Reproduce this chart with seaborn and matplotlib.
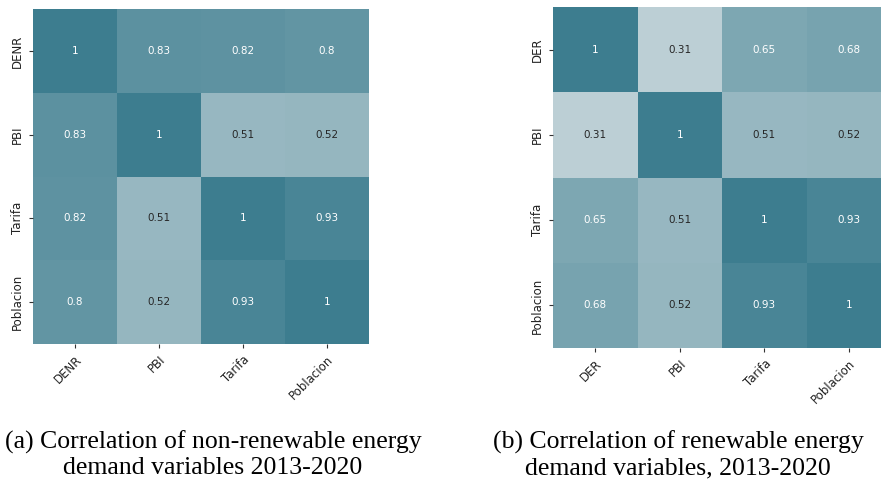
import numpy as np
import pandas as pd
import seaborn as sns
import matplotlib.pyplot as plt

# Correlation matrices
vars_nr = ['DENR', 'PBI', 'Tarifa', 'Poblacion']
corr_nr = [[1.00, 0.83, 0.82, 0.80],
           [0.83, 1.00, 0.51, 0.52],
           [0.82, 0.51, 1.00, 0.93],
           [0.80, 0.52, 0.93, 1.00]]

vars_r = ['DER', 'PBI', 'Tarifa', 'Poblacion']
corr_r = [[1.00, 0.31, 0.65, 0.68],
          [0.31, 1.00, 0.51, 0.52],
          [0.65, 0.51, 1.00, 0.93],
          [0.68, 0.52, 0.93, 1.00]]

captions = ['(a) Correlation of non-renewable energy\ndemand variables 2013-2020',
            '(b) Correlation of renewable energy\ndemand variables, 2013-2020']

df_nr = pd.DataFrame(corr_nr, index=vars_nr, columns=vars_nr)
df_r = pd.DataFrame(corr_r, index=vars_r, columns=vars_r)

cmap = sns.blend_palette(['#f5f4f4', '#3d7d8f'], as_cmap=True)

W, H = 881, 484
fig = plt.figure(figsize=(W / 100, H / 100), dpi=100)

# axes boxes in pixels: left, top, right, bottom
boxes = [(33, 9, 369, 344), (553, 7, 891, 348)]
frames = [df_nr, df_r]

for (l, t, r, b), df in zip(boxes, frames):
    ax = fig.add_axes([l / W, (H - b) / H, (r - l) / W, (b - t) / H])
    sns.heatmap(df, ax=ax, cmap=cmap, vmin=0, vmax=1, annot=True, cbar=False,
                annot_kws={'fontsize': 7.5})
    ax.set_xticklabels(ax.get_xticklabels(), rotation=45, ha='right',
                       rotation_mode='anchor', fontsize=8.5)
    ax.set_yticklabels(ax.get_yticklabels(), rotation=90, va='center', fontsize=8.5)
    ax.tick_params(length=3, width=0.8, colors='#333333', labelcolor='#222222')

# captions below the panels
for cx, txt in zip([213, 678], captions):
    fig.text(cx / W, 1 - 455 / H, txt, ha='center', va='center',
             family='Liberation Serif', fontsize=18.5, linespacing=1.18)

plt.savefig('out.png', dpi=100)
